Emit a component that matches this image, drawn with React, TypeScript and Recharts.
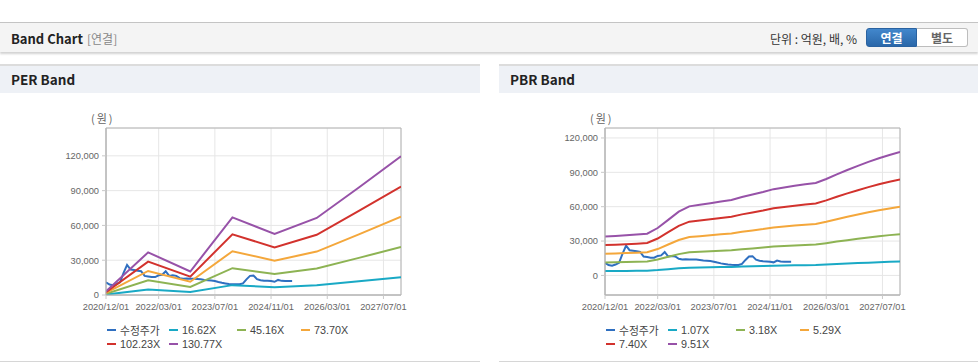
import React from "react";
import { LineChart, Line, XAxis, YAxis, CartesianGrid, ReferenceArea } from "recharts";

// month index from 2020/12
const xTicks = [0, 15, 31, 47, 63, 79];
const xLabels = ["2020/12/01", "2022/03/01", "2023/07/01", "2024/11/01", "2026/03/01", "2027/07/01"];
const yTicks = [0, 30000, 60000, 90000, 120000];

const priceMonths = [
  0, 1, 2, 3, 4, 5, 6, 7, 8, 9, 10, 11, 12, 13, 14, 15, 16, 17, 18, 19, 20, 21, 22, 23, 24, 25, 26,
  27, 28, 29, 30, 31, 32, 33, 34, 35, 36, 37, 38, 39, 40, 41, 42, 43, 44, 45, 46, 47, 48, 49, 50, 51, 52, 53,
];
const price = [
  11000, 9000, 8500, 9500, 11000, 19000, 26000, 22000, 21500, 21000, 20500, 16500, 16000, 15500, 15500,
  17000, 17500, 20500, 16500, 17000, 16500, 14500, 14000, 14200, 14000, 14000, 13800, 13500, 13000, 12800,
  12500, 12000, 11200, 10500, 10000, 9500, 9300, 9200, 9200, 10000, 13500, 16500, 16800, 13700, 12800,
  12300, 12200, 12000, 11400, 13000, 12200, 12000, 12000, 12000,
];

// PER band (yearly vertices)
const perMonths = [0, 12, 24, 36, 48, 60, 72, 84];
const per1662 = [400, 4670, 2580, 8510, 6680, 8440, 11780, 15210];
const per4516 = [1080, 12690, 7000, 23120, 18150, 22940, 32020, 41320];
const per7370 = [1770, 20710, 11420, 37730, 29630, 37440, 52250, 67440];
const per10223 = [2450, 28730, 15850, 52340, 41100, 51930, 72480, 93540];
const per13077 = [3140, 36750, 20270, 66950, 52570, 66430, 92720, 119650];

// PBR band (quarterly)
const pbrMonths = [0, 3, 6, 9, 12, 15, 18, 21, 24, 27, 30, 33, 36, 39, 42, 45, 48, 51, 54, 57, 60, 63, 66, 69, 72, 75, 78, 81, 84];
const pbr107 = [3830, 3870, 3940, 4010, 4100, 4660, 5460, 6260, 6780, 6930, 7090, 7250, 7400, 7700, 7940, 8190, 8470, 8650, 8810, 8950, 9070, 9470, 9930, 10360, 10750, 11150, 11510, 11830, 12120];
const pbr318 = [11380, 11510, 11700, 11930, 12180, 13830, 16220, 18600, 20160, 20610, 21080, 21560, 22010, 22900, 23600, 24330, 25190, 25690, 26170, 26590, 26970, 28140, 29510, 30780, 31960, 33140, 34220, 35170, 36030];
const pbr529 = [18940, 19150, 19470, 19840, 20260, 23010, 26980, 30950, 33540, 34280, 35070, 35870, 36610, 38090, 39250, 40470, 41900, 42740, 43540, 44220, 44860, 46820, 49090, 51210, 53170, 55120, 56920, 58510, 59940];
const pbr740 = [26490, 26790, 27230, 27750, 28340, 32190, 37740, 43290, 46920, 47950, 49060, 50170, 51210, 53280, 54910, 56610, 58610, 59790, 60900, 61860, 62750, 65490, 68670, 71630, 74370, 77110, 79620, 81840, 83840];
const pbr951 = [34050, 34430, 35000, 35660, 36420, 41370, 48500, 55630, 60290, 61630, 63050, 64480, 65810, 68470, 70560, 72750, 75320, 76840, 78270, 79500, 80650, 84160, 88250, 92060, 95580, 99090, 102330, 105180, 107750];

const perNames = ["수정주가", "16.62X", "45.16X", "73.70X", "102.23X", "130.77X"];
const pbrNames = ["수정주가", "1.07X", "3.18X", "5.29X", "7.40X", "9.51X"];
const colors = ["#2f6fc0", "#19a9c5", "#8db353", "#f4a73b", "#d2322d", "#9752a8"];

const rows = (xs: number[], ys: number[]) => xs.map((m, i) => ({ m, v: ys[i] }));

const perSeries = [
  rows(priceMonths, price),
  rows(perMonths, per1662),
  rows(perMonths, per4516),
  rows(perMonths, per7370),
  rows(perMonths, per10223),
  rows(perMonths, per13077),
];
const pbrSeries = [
  rows(priceMonths, price),
  rows(pbrMonths, pbr107),
  rows(pbrMonths, pbr318),
  rows(pbrMonths, pbr529),
  rows(pbrMonths, pbr740),
  rows(pbrMonths, pbr951),
];

const KR = '"Noto Sans CJK KR", "Noto Sans", sans-serif';
const TICK_FONT = '"Liberation Sans", Arial, sans-serif';

function Legend({ names }: { names: string[] }) {
  const slots = [0, 62, 130, 194];
  return (
    <>
      {names.map((n, i) => (
        <div
          key={n}
          style={{
            position: "absolute",
            left: 107 + slots[i % 4],
            top: 259 + Math.floor(i / 4) * 14,
            height: 14,
            display: "flex",
            alignItems: "center",
            fontFamily: '"Liberation Sans", "Noto Sans CJK KR", sans-serif',
            fontSize: 10.8,
            color: "#444",
            whiteSpace: "nowrap",
          }}
        >
          <span style={{ width: 9, height: 2, background: colors[i], marginRight: 4 }} />
          {n}
        </div>
      ))}
    </>
  );
}

function BandPanel({
  left,
  width,
  title,
  names,
  series,
  yDomain,
}: {
  left: number;
  width: number;
  title: string;
  names: string[];
  series: { m: number; v: number }[][];
  yDomain: [number, number];
}) {
  return (
    <div style={{ position: "absolute", left, top: 64, width, height: 300 }}>
      <div
        style={{
          position: "absolute",
          left: 0,
          top: 0,
          width,
          height: 29,
          background: "#eef1f6",
          borderTop: "2px solid #dcdcdc",
          fontFamily: KR,
          fontWeight: 700,
          fontSize: 13.5,
          color: "#222",
          lineHeight: "27px",
          paddingLeft: 11,
          boxSizing: "border-box",
        }}
      >
        {title}
      </div>
      <div
        style={{
          position: "absolute",
          left: 91,
          top: 47,
          fontFamily: KR,
          fontSize: 11,
          color: "#666",
          lineHeight: "14px",
          letterSpacing: 2,
        }}
      >
        (원)
      </div>
      <div style={{ position: "absolute", left: 0, top: 29 }}>
        <LineChart width={width} height={270} margin={{ top: 35, right: width - 401, bottom: 38, left: 0 }}>
          <CartesianGrid stroke="#e6e6e6" />
          <XAxis
            type="number"
            dataKey="m"
            domain={[0, 84]}
            allowDataOverflow
            ticks={xTicks}
            interval={0}
            tickFormatter={(m: number) => xLabels[xTicks.indexOf(m)] ?? ""}
            height={30}
            tickSize={4}
            tickMargin={4}
            axisLine={{ stroke: "#b4b4b4" }}
            tickLine={{ stroke: "#c8c8c8" }}
            tick={{ fontSize: 9.3, fill: "#666", fontFamily: TICK_FONT }}
          />
          <YAxis
            type="number"
            domain={yDomain}
            allowDataOverflow
            ticks={yTicks}
            interval={0}
            width={106}
            tickSize={4}
            tickMargin={3}
            tickFormatter={(v: number) => v.toLocaleString("en-US")}
            axisLine={{ stroke: "#b4b4b4" }}
            tickLine={{ stroke: "#c8c8c8" }}
            tick={{ fontSize: 9.3, fill: "#666", fontFamily: TICK_FONT }}
          />
          <ReferenceArea x1={0} x2={84} y1={yDomain[0]} y2={yDomain[1]} fill="none" stroke="#b4b4b4" />
          {series.map((d, i) => (
            <Line
              key={names[i]}
              data={d}
              dataKey="v"
              name={names[i]}
              type="linear"
              stroke={colors[i]}
              strokeWidth={2}
              dot={false}
              isAnimationActive={false}
            />
          ))}
        </LineChart>
      </div>
      <Legend names={names} />
      <div style={{ position: "absolute", left: 0, top: 297, width, height: 1, background: "#d6d6d6" }} />
    </div>
  );
}

export default function App() {
  return (
    <div
      style={{
        position: "absolute",
        left: 0,
        top: 0,
        width: 978,
        height: 364,
        background: "#fff",
        overflow: "hidden",
      }}
    >
      <div
        style={{
          position: "absolute",
          left: 0,
          top: 22,
          width: 978,
          height: 30,
          background: "#f4f4f4",
          borderTop: "1px solid #c4c4c4",
          boxShadow: "0 2px 2px rgba(0,0,0,0.18)",
          boxSizing: "border-box",
          fontFamily: KR,
        }}
      >
        <span style={{ position: "absolute", left: 11, top: 6, fontWeight: 700, fontSize: 13, color: "#222" }}>
          Band Chart
        </span>
        <span style={{ position: "absolute", left: 87, top: 7, fontSize: 12, color: "#888" }}>[연결]</span>
        <span style={{ position: "absolute", left: 770, top: 7, fontSize: 12, color: "#333" }}>
          단위 : 억원, 배, %
        </span>
        <div
          style={{
            position: "absolute",
            left: 866,
            top: 5,
            width: 51,
            height: 19,
            background: "linear-gradient(#4287cc, #2a67a9)",
            border: "1px solid #2a62a0",
            borderRadius: "3px 0 0 3px",
            boxSizing: "border-box",
            color: "#fff",
            fontWeight: 700,
            fontSize: 12,
            textAlign: "center",
            lineHeight: "17px",
          }}
        >
          연결
        </div>
        <div
          style={{
            position: "absolute",
            left: 917,
            top: 5,
            width: 51,
            height: 19,
            background: "#fff",
            border: "1px solid #bdbdbd",
            borderLeft: "none",
            borderRadius: "0 3px 3px 0",
            boxSizing: "border-box",
            color: "#666",
            fontWeight: 700,
            fontSize: 12,
            textAlign: "center",
            lineHeight: "17px",
          }}
        >
          별도
        </div>
      </div>
      <BandPanel left={0} width={480} title="PER Band" names={perNames} series={perSeries} yDomain={[0, 144000]} />
      <BandPanel left={499} width={479} title="PBR Band" names={pbrNames} series={pbrSeries} yDomain={[-17100, 128700]} />
    </div>
  );
}
